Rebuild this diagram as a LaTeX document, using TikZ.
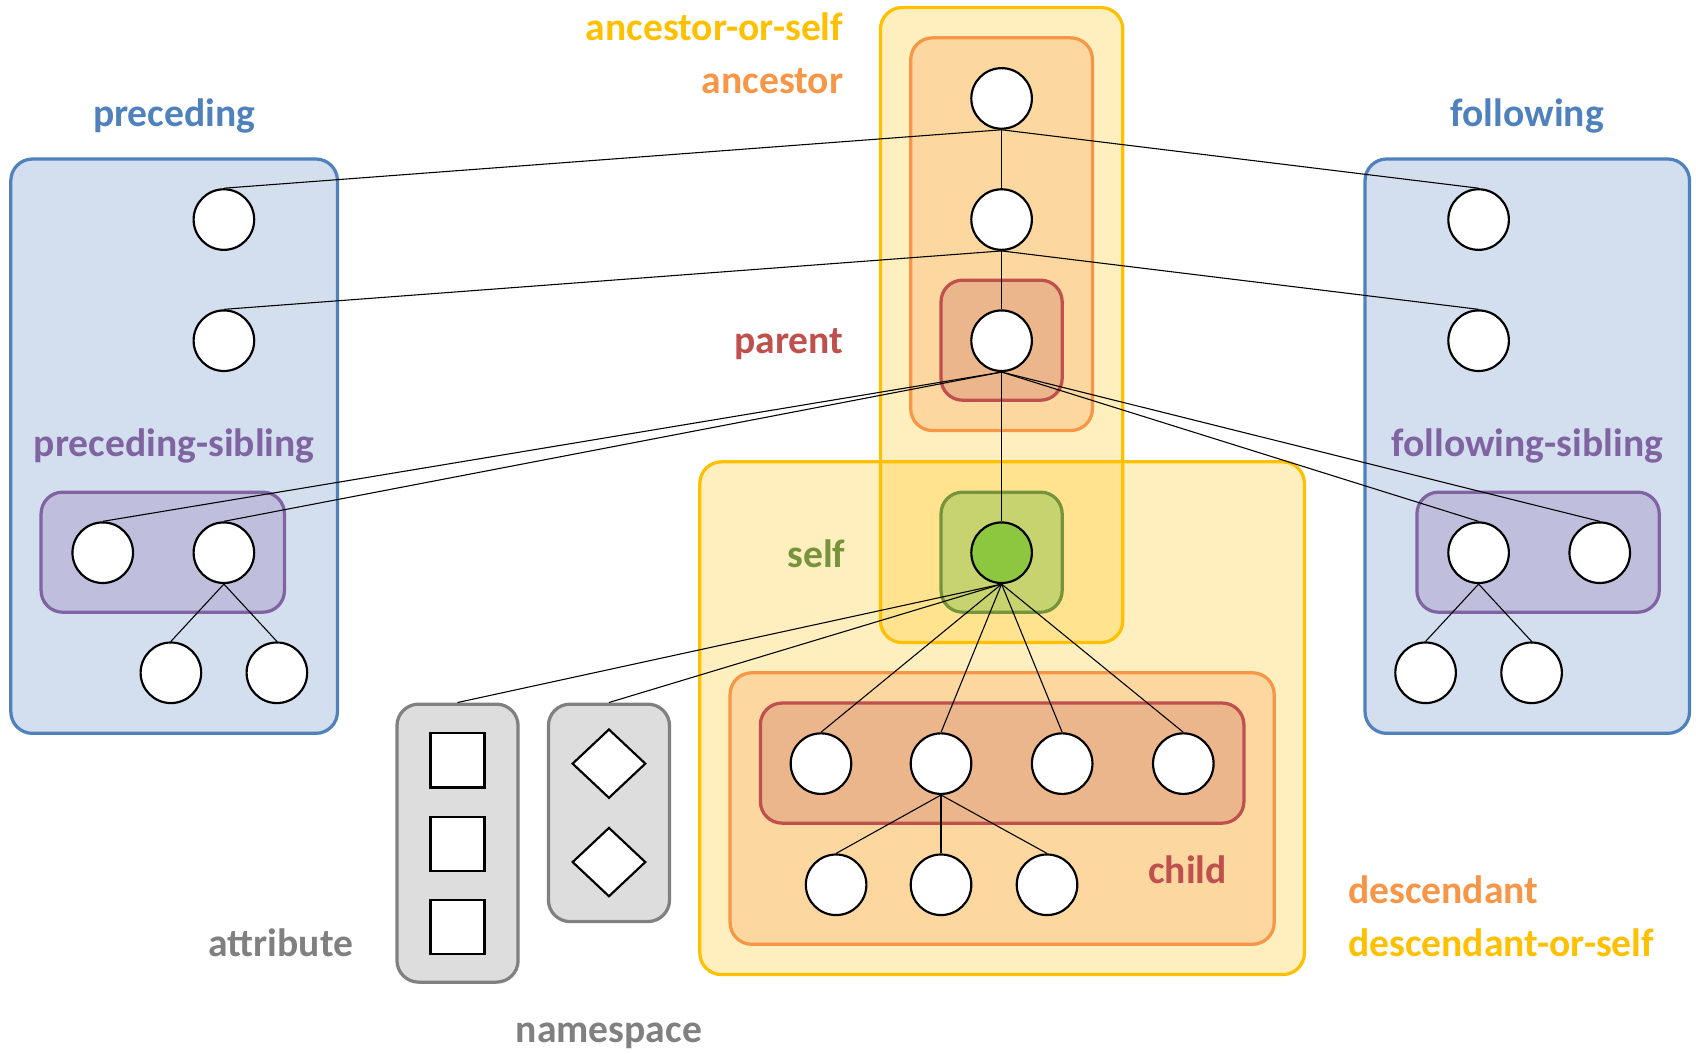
\documentclass[tikz,border=0pt]{standalone}
\usepackage{fontspec}
\setmainfont{Carlito}
\usetikzlibrary{shapes.geometric}
\definecolor{blueL}{HTML}{4F81BD}
\definecolor{blueF}{HTML}{D3DFEE}
\definecolor{purpL}{HTML}{8064A2}
\definecolor{purpF}{HTML}{BFBFDD}
\definecolor{yelL}{HTML}{FFC000}
\definecolor{oraL}{HTML}{F79646}
\definecolor{oraF}{HTML}{FCD8A0}
\definecolor{redL}{HTML}{C0504D}
\definecolor{redF}{HTML}{EBB68B}
\definecolor{grnL}{HTML}{77933C}
\definecolor{grnF}{HTML}{C6D36E}
\definecolor{grnC}{HTML}{8DC63F}
\definecolor{grayL}{HTML}{808080}
\definecolor{grayF}{HTML}{DDDDDD}
\newcommand\regionbox[6]{\node[#1, minimum width={(#5-#3)*0.5pt}, minimum height={(#6-#4)*0.5pt}] (#2) at ({(#3+#5)/2},{(#4+#6)/2}) {};}
\tikzset{
  region/.style={rectangle, rounded corners=10pt, line width=1.5pt, inner sep=0pt},
  yelbox/.style={region, draw=yelL, fill=yelL, fill opacity=0.25},
  orabox/.style={region, draw=oraL, fill=oraF},
  redbox/.style={region, draw=redL, fill=redF},
  grnbox/.style={region, draw=grnL, fill=grnF},
  bluebox/.style={region, draw=blueL, fill=blueF},
  purpbox/.style={region, draw=purpL, fill=purpF},
  graybox/.style={region, draw=grayL, fill=grayF},
  nd/.style={circle, draw=black, fill=white, line width=1pt, minimum size=28pt, inner sep=0pt},
  attr/.style={rectangle, draw=black, fill=white, line width=1pt, minimum size=25pt, inner sep=0pt},
  nsd/.style={diamond, draw=black, fill=white, line width=1pt, minimum width=34pt, minimum height=32pt, inner sep=0pt},
  edge/.style={draw=black, line width=0.5pt},
  lbl/.style={font=\bfseries\fontsize{18.3pt}{20pt}\selectfont, inner sep=0pt},
}
\begin{document}
\begin{tikzpicture}[x=0.5pt,y=-0.5pt]
\useasboundingbox (0,0) rectangle (1568,973.6);
% regions
\regionbox{yelbox}{aos}{814}{7}{1038}{594}
\regionbox{yelbox}{dos}{647}{427}{1206}{901}
\regionbox{orabox}{anc}{842}{35}{1010}{398}
\regionbox{redbox}{par}{870}{259}{982}{370}
\regionbox{grnbox}{slf}{870}{455}{982}{566}
\regionbox{orabox}{dsc}{675}{622}{1178}{873}
\regionbox{redbox}{chd}{703}{650}{1150}{761}
\regionbox{bluebox}{prc}{10}{147}{312}{678}
\regionbox{purpbox}{prs}{38}{455}{263}{566}
\regionbox{bluebox}{fol}{1262}{147}{1562}{678}
\regionbox{purpbox}{fos}{1310}{455}{1534}{566}
\regionbox{graybox}{atb}{367}{651}{479}{908}
\regionbox{graybox}{nsb}{507}{651}{619}{852}
% nodes
\node[nd] (a1) at (926,91) {};
\node[nd] (a2) at (926,203) {};
\node[nd] (p) at (926,315) {};
\node[nd, fill=grnC] (s) at (926,511) {};
\node[nd] (pr1) at (207,203) {};
\node[nd] (pr2) at (207,315) {};
\node[nd] (ps1) at (95,511) {};
\node[nd] (ps2) at (207,511) {};
\node[nd] (pc1) at (158,622) {};
\node[nd] (pc2) at (256,622) {};
\node[nd] (fo1) at (1367,203) {};
\node[nd] (fo2) at (1367,315) {};
\node[nd] (fs1) at (1367,511) {};
\node[nd] (fs2) at (1479,511) {};
\node[nd] (fc1) at (1318,622) {};
\node[nd] (fc2) at (1416,622) {};
\node[nd] (c1) at (759,706) {};
\node[nd] (c2) at (870,706) {};
\node[nd] (c3) at (982,706) {};
\node[nd] (c4) at (1094,706) {};
\node[nd] (g1) at (773,818) {};
\node[nd] (g2) at (870,818) {};
\node[nd] (g3) at (968,818) {};
\node[attr] (at1) at (423,703) {};
\node[attr] (at2) at (423,780) {};
\node[attr] (at3) at (423,857) {};
\node[nsd] (ns1) at (563,706) {};
\node[nsd] (ns2) at (563,797) {};
% edges
\draw[edge] (a1.south) -- (a2.north);
\draw[edge] (a1.south) -- (pr1.north);
\draw[edge] (a1.south) -- (fo1.north);
\draw[edge] (a2.south) -- (p.north);
\draw[edge] (a2.south) -- (pr2.north);
\draw[edge] (a2.south) -- (fo2.north);
\draw[edge] (p.south) -- (s.north);
\draw[edge] (p.south) -- (ps1.north);
\draw[edge] (p.south) -- (ps2.north);
\draw[edge] (p.south) -- (fs1.north);
\draw[edge] (p.south) -- (fs2.north);
\draw[edge] (ps2.south) -- (pc1.north);
\draw[edge] (ps2.south) -- (pc2.north);
\draw[edge] (fs1.south) -- (fc1.north);
\draw[edge] (fs1.south) -- (fc2.north);
\draw[edge] (s.south) -- (atb.north);
\draw[edge] (s.south) -- (nsb.north);
\draw[edge] (s.south) -- (c1.north);
\draw[edge] (s.south) -- (c2.north);
\draw[edge] (s.south) -- (c3.north);
\draw[edge] (s.south) -- (c4.north);
\draw[edge] (c2.south) -- (g1.north);
\draw[edge] (c2.south) -- (g2.north);
\draw[edge] (c2.south) -- (g3.north);
% labels
\node[lbl, text=yelL, anchor=east] (laos) at (780,25) {ancestor-or-self};
\node[lbl, text=oraL, anchor=east] (lanc) at (780,75) {ancestor};
\node[lbl, text=redL, anchor=east] (lpar) at (780,318) {parent};
\node[lbl, text=grnL, anchor=east] (lslf) at (782,512) {self};
\node[lbl, text=blueL] (lprc) at (161,107) {preceding};
\node[lbl, text=blueL] (lfol) at (1412,107) {following};
\node[lbl, text=purpL] (lprs) at (161,412) {preceding-sibling};
\node[lbl, text=purpL] (lfos) at (1412,412) {following-sibling};
\node[lbl, text=grayL, anchor=east] (latb) at (327,872) {attribute};
\node[lbl, text=grayL] (lnsb) at (563,958) {namespace};
\node[lbl, text=redL] (lchd) at (1098,804) {child};
\node[lbl, text=oraL, anchor=west] (ldsc) at (1246,823) {descendant};
\node[lbl, text=yelL, anchor=west] (ldos) at (1246,872) {descendant-or-self};
\end{tikzpicture}
\end{document}
